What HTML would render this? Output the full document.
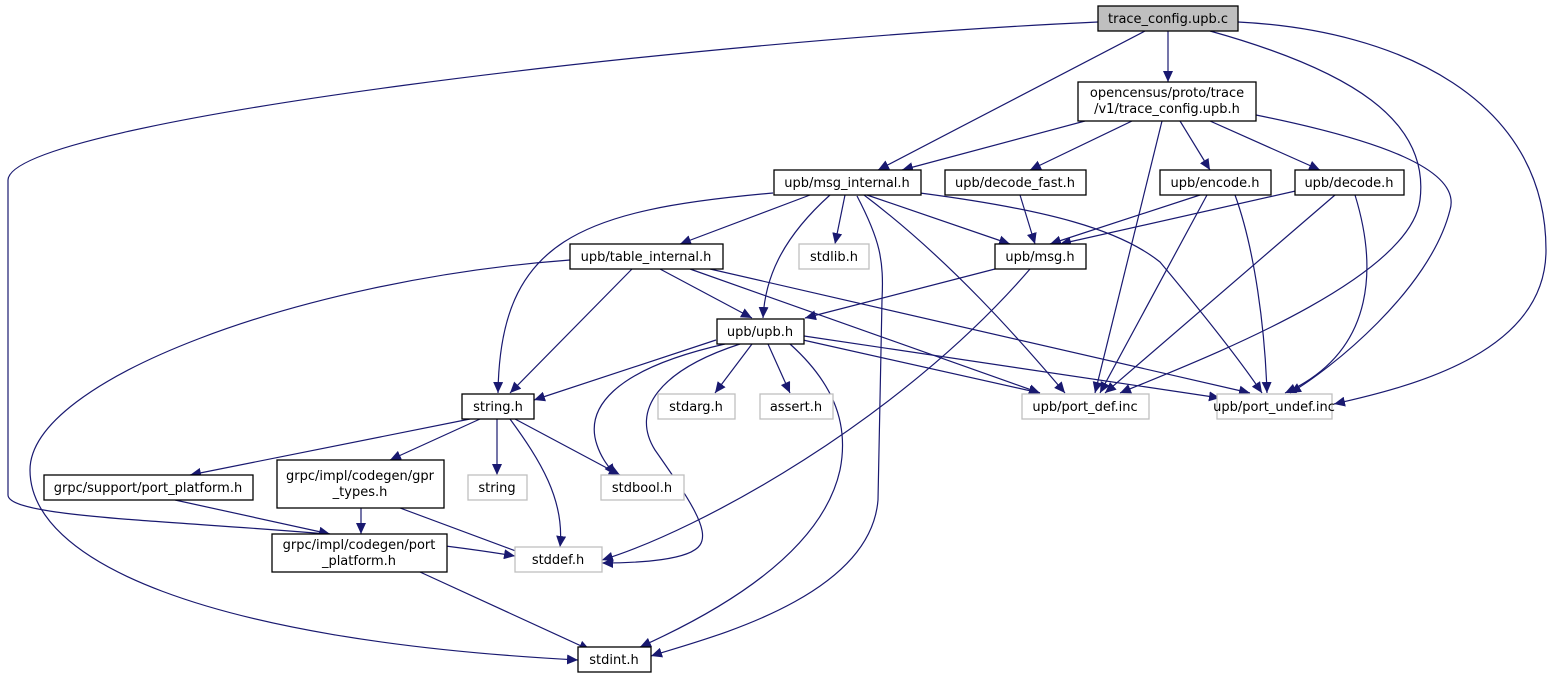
<!DOCTYPE html>
<html><head><meta charset="utf-8"><style>
html,body{margin:0;padding:0;background:#fff;}
svg{display:block;}
text{font-family:"DejaVu Sans","Liberation Sans",sans-serif;font-size:13px;text-anchor:middle;fill:#000;}
.n{fill:#fff;stroke:#000;stroke-width:1.3;}
.g{fill:#fff;stroke:#bfbfbf;stroke-width:1.3;}
.e{fill:none;stroke:#191970;stroke-width:1.2;marker-end:url(#a);}
</style></head><body>
<svg width="1548" height="679" viewBox="0 0 1548 679" xmlns="http://www.w3.org/2000/svg">
<defs><marker id="a" markerWidth="12" markerHeight="10" refX="11" refY="5" orient="auto" markerUnits="userSpaceOnUse"><path d="M0,0 L11,5 L0,10 z" fill="#191970"/></marker></defs>
<g>
<path class="e" d="M1168,31 L1168,82"/>
<path class="e" d="M1145,31 L878,170"/>
<path class="e" d="M1098,22 C700,40 10,120 8,180 L8,495 C8,525 300,520 515,556"/>
<path class="e" d="M1238,22 C1400,30 1546,100 1546,250 C1546,350 1420,385 1334,404"/>
<path class="e" d="M1210,31 C1350,70 1430,120 1420,200 C1410,280 1200,360 1120,393"/>
<path class="e" d="M1085,121 L902,170"/>
<path class="e" d="M1132,121 L1030,170"/>
<path class="e" d="M1180,121 L1210,170"/>
<path class="e" d="M1210,121 L1320,170"/>
<path class="e" d="M1162,121 L1095,393"/>
<path class="e" d="M1256,115 C1380,140 1462,170 1450,210 C1430,290 1330,370 1290,393"/>
<path class="e" d="M773,193 C580,210 500,240 498,393"/>
<path class="e" d="M810,195 L680,244"/>
<path class="e" d="M845,195 L835,244"/>
<path class="e" d="M830,195 C780,240 765,280 763,318"/>
<path class="e" d="M867,195 L1010,244"/>
<path class="e" d="M857,196 C880,240 884,260 882,300 L878,500 C870,600 700,640 651,656"/>
<path class="e" d="M864,195 C950,260 1020,340 1065,393"/>
<path class="e" d="M920,193 C1050,210 1120,230 1160,262 C1200,310 1240,360 1262,393"/>
<path class="e" d="M1020,195 L1035,244"/>
<path class="e" d="M1200,195 L1050,244"/>
<path class="e" d="M1207,195 L1100,393"/>
<path class="e" d="M1235,195 C1255,250 1265,330 1267,393"/>
<path class="e" d="M1300,190 L1060,244"/>
<path class="e" d="M1335,195 L1105,393"/>
<path class="e" d="M1355,195 C1375,260 1380,350 1285,393"/>
<path class="e" d="M632,269 L510,393"/>
<path class="e" d="M660,269 L752,318"/>
<path class="e" d="M690,269 L1040,393"/>
<path class="e" d="M710,269 L1250,393"/>
<path class="e" d="M570,260 C300,280 30,380 30,470 C30,560 200,640 578,660"/>
<path class="e" d="M1030,269 C900,420 700,530 602,560"/>
<path class="e" d="M995,269 L805,318"/>
<path class="e" d="M716,340 L534,400"/>
<path class="e" d="M725,344 C610,370 585,410 597,445 C602,460 610,468 615,475"/>
<path class="e" d="M752,344 L715,393"/>
<path class="e" d="M768,344 L790,393"/>
<path class="e" d="M803,340 L1040,393"/>
<path class="e" d="M804,336 L1220,398"/>
<path class="e" d="M740,344 C660,370 630,410 655,450 C690,500 710,530 700,545 C690,560 640,563 602,563"/>
<path class="e" d="M790,344 C830,380 850,420 840,470 C820,560 700,620 640,647"/>
<path class="e" d="M470,419 L190,475"/>
<path class="e" d="M480,419 L390,460"/>
<path class="e" d="M497,419 L497,475"/>
<path class="e" d="M510,419 C540,460 565,500 560,547"/>
<path class="e" d="M515,419 L620,475"/>
<path class="e" d="M175,500 L330,534"/>
<path class="e" d="M361,508 L361,534"/>
<path class="e" d="M400,508 L540,560"/>
<path class="e" d="M420,572 L590,650"/>
</g>
<g>
<rect x="1098" y="6" width="140" height="25" fill="#bfbfbf" stroke="#000" stroke-width="1.3"/><text x="1168" y="23">trace_config.upb.c</text>
<rect class="n" x="1078" y="82" width="178" height="39"/><text x="1167" y="97">opencensus/proto/trace</text><text x="1167" y="113">/v1/trace_config.upb.h</text>
<rect class="n" x="774" y="170" width="147" height="25"/><text x="847" y="187">upb/msg_internal.h</text>
<rect class="n" x="945" y="170" width="141" height="25"/><text x="1015" y="187">upb/decode_fast.h</text>
<rect class="n" x="1160" y="170" width="111" height="25"/><text x="1215" y="187">upb/encode.h</text>
<rect class="n" x="1295" y="170" width="109" height="25"/><text x="1349" y="187">upb/decode.h</text>
<rect class="n" x="570" y="244" width="153" height="25"/><text x="646" y="261">upb/table_internal.h</text>
<rect class="g" x="799" y="244" width="70" height="25"/><text x="834" y="261">stdlib.h</text>
<rect class="n" x="995" y="244" width="91" height="25"/><text x="1040" y="261">upb/msg.h</text>
<rect class="n" x="717" y="319" width="87" height="25"/><text x="760" y="336">upb/upb.h</text>
<rect class="n" x="462" y="394" width="72" height="25"/><text x="498" y="411">string.h</text>
<rect class="g" x="658" y="394" width="77" height="25"/><text x="696" y="411">stdarg.h</text>
<rect class="g" x="760" y="394" width="73" height="25"/><text x="796" y="411">assert.h</text>
<rect class="g" x="1022" y="394" width="127" height="25"/><text x="1085" y="411">upb/port_def.inc</text>
<rect class="g" x="1217" y="394" width="115" height="25"/><text x="1274" y="411">upb/port_undef.inc</text>
<rect class="n" x="44" y="475" width="209" height="25"/><text x="148" y="492">grpc/support/port_platform.h</text>
<rect class="n" x="277" y="460" width="167" height="48"/><text x="360" y="480">grpc/impl/codegen/gpr</text><text x="360" y="496">_types.h</text>
<rect class="g" x="468" y="475" width="59" height="25"/><text x="497" y="492">string</text>
<rect class="g" x="601" y="475" width="83" height="25"/><text x="642" y="492">stdbool.h</text>
<rect class="n" x="272" y="534" width="175" height="38"/><text x="359" y="549">grpc/impl/codegen/port</text><text x="359" y="565">_platform.h</text>
<rect class="g" x="515" y="547" width="87" height="25"/><text x="558" y="564">stddef.h</text>
<rect class="n" x="578" y="647" width="73" height="25"/><text x="614" y="664">stdint.h</text>
</g>
</svg>
</body></html>
